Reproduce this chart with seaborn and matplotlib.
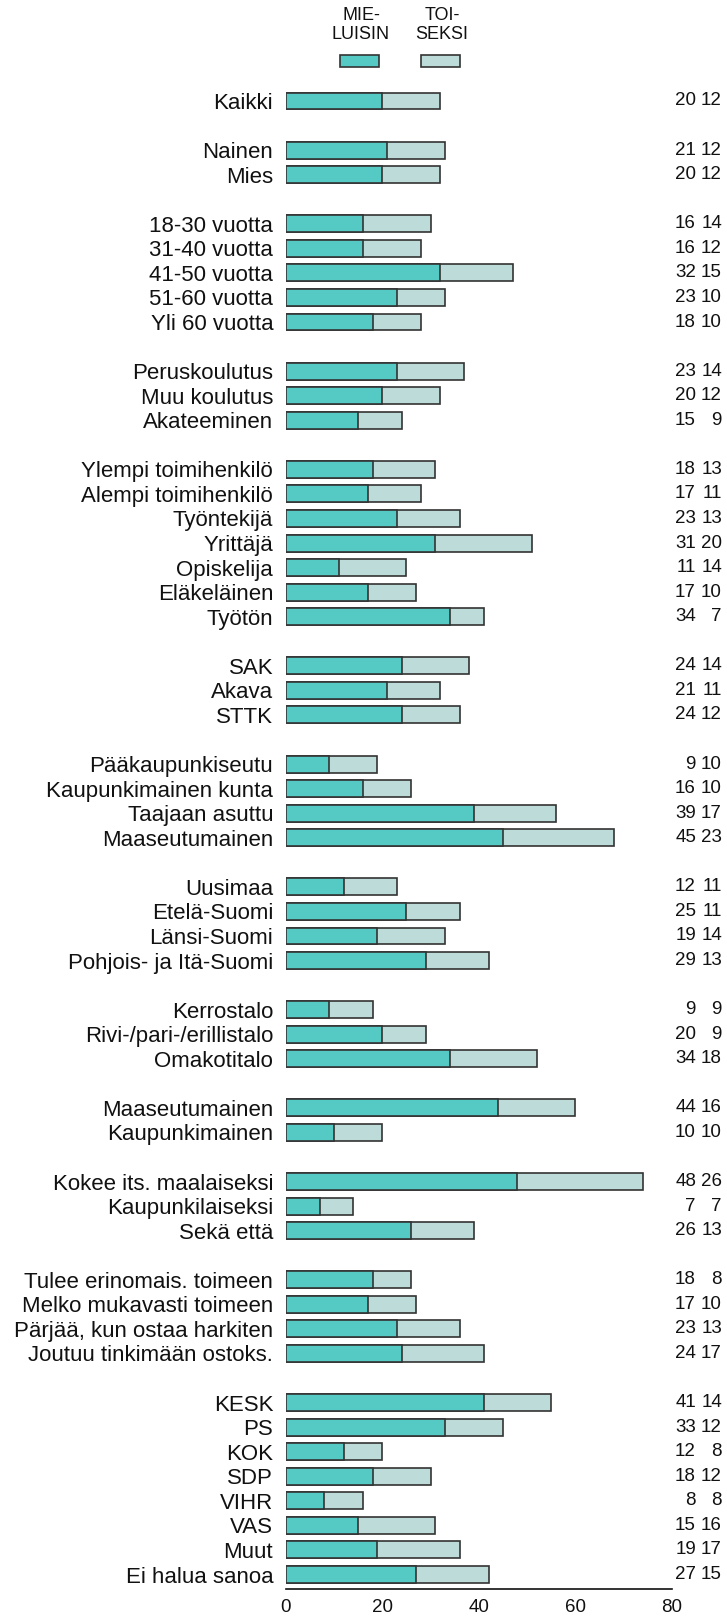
import numpy as np
import pandas as pd
import matplotlib
matplotlib.use("Agg")
import matplotlib.pyplot as plt
import matplotlib.transforms as mtransforms
from matplotlib.patches import Rectangle
import seaborn as sns

# %% Data
labels = [
    "Kaikki",
    "Nainen", "Mies",
    "18-30 vuotta", "31-40 vuotta", "41-50 vuotta", "51-60 vuotta", "Yli 60 vuotta",
    "Peruskoulutus", "Muu koulutus", "Akateeminen",
    "Ylempi toimihenkilö", "Alempi toimihenkilö", "Työntekijä", "Yrittäjä",
    "Opiskelija", "Eläkeläinen", "Työtön",
    "SAK", "Akava", "STTK",
    "Pääkaupunkiseutu", "Kaupunkimainen kunta", "Taajaan asuttu", "Maaseutumainen",
    "Uusimaa", "Etelä-Suomi", "Länsi-Suomi", "Pohjois- ja Itä-Suomi",
    "Kerrostalo", "Rivi-/pari-/erillistalo", "Omakotitalo",
    "Maaseutumainen", "Kaupunkimainen",
    "Kokee its. maalaiseksi", "Kaupunkilaiseksi", "Sekä että",
    "Tulee erinomais. toimeen", "Melko mukavasti toimeen",
    "Pärjää, kun ostaa harkiten", "Joutuu tinkimään ostoks.",
    "KESK", "PS", "KOK", "SDP", "VIHR", "VAS", "Muut", "Ei halua sanoa",
]
group_sizes = [1, 2, 5, 3, 7, 3, 4, 4, 3, 2, 3, 4, 8]

mieluisin = [20, 21, 20, 16, 16, 32, 23, 18, 23, 20, 15, 18, 17, 23, 31, 11, 17, 34,
             24, 21, 24, 9, 16, 39, 45, 12, 25, 19, 29, 9, 20, 34, 44, 10, 48, 7, 26,
             18, 17, 23, 24, 41, 33, 12, 18, 8, 15, 19, 27]
toiseksi = [12, 12, 12, 14, 12, 15, 10, 10, 14, 12, 9, 13, 11, 13, 20, 14, 10, 7,
            14, 11, 12, 10, 10, 17, 23, 11, 11, 14, 13, 9, 9, 18, 16, 10, 26, 7, 13,
            8, 10, 13, 17, 14, 12, 8, 12, 8, 16, 17, 15]

legend_labels = ["MIE-\nLUISIN", "TOI-\nSEKSI"]
x_ticks = [0, 20, 40, 60, 80]

# %% Build positions (one empty row between groups)
pos = []
p = 0
for n in group_sizes:
    for i in range(n):
        pos.append(p)
        p += 1
    p += 1

df = pd.DataFrame({"label": labels, "pos": pos,
                   "mieluisin": mieluisin, "toiseksi": toiseksi})
df["total"] = df["mieluisin"] + df["toiseksi"]

teal = "#55C9C4"
light = "#BDDCD9"
edge = "#333333"

# %% Plot
sns.set_style("white")
plt.rcParams["font.family"] = ["Liberation Sans", "DejaVu Sans"]

W, H = 727, 1618
fig = plt.figure(figsize=(W / 100, H / 100), dpi=100)
ax = fig.add_axes([285.7 / W, 29 / H, (672 - 285.7) / W, (1589 - 88.7) / H])

# light bar = total, teal bar drawn on top
sns.barplot(data=df, x="total", y="pos", orient="y", native_scale=True,
            color=light, saturation=1, edgecolor=edge, linewidth=1.2,
            width=0.69, errorbar=None, ax=ax)
sns.barplot(data=df, x="mieluisin", y="pos", orient="y", native_scale=True,
            color=teal, saturation=1, edgecolor=edge, linewidth=1.2,
            width=0.69, errorbar=None, ax=ax)

ax.set_xlim(0, 80)
ax.set_ylim(60.59, -0.5)
ax.set_yticks(df["pos"])
ax.set_yticklabels(df["label"], fontsize=16, color="#111111")
ax.tick_params(axis="y", length=0, pad=9)
ax.set_xticks(x_ticks)
ax.tick_params(axis="x", length=5, width=1.2, labelsize=13.5, pad=2,
               direction="out", colors="#111111")
ax.set_xlabel("")
ax.set_ylabel("")
for s in ["top", "right", "left"]:
    ax.spines[s].set_visible(False)
ax.spines["bottom"].set_linewidth(1.2)
ax.spines["bottom"].set_color("#111111")

# numbers on the right
tr = mtransforms.blended_transform_factory(fig.transFigure, ax.transData)
for _, row in df.iterrows():
    ax.text(696 / W, row["pos"], str(row["mieluisin"]), transform=tr,
            ha="right", va="center", fontsize=13.5, color="#111111")
    ax.text(722 / W, row["pos"], str(row["toiseksi"]), transform=tr,
            ha="right", va="center", fontsize=13.5, color="#111111")

# legend at top
for x0, c, txt in zip([340, 421], [teal, light], legend_labels):
    fig.patches.append(Rectangle((x0 / W, 1 - 67 / H), 39 / W, 12 / H,
                                 transform=fig.transFigure, facecolor=c,
                                 edgecolor=edge, linewidth=1.2))
    fig.text((x0 + 21) / W, 1 - 25 / H, txt, ha="center", va="center",
             fontsize=13, linespacing=1.2, color="#111111")

fig.savefig("out.png", dpi=100)
